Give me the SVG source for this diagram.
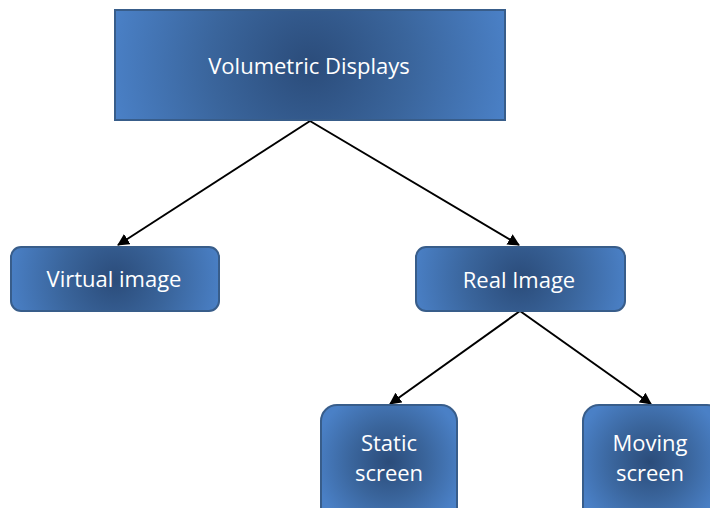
<svg xmlns="http://www.w3.org/2000/svg" width="710" height="508" viewBox="0 0 710 508">
  <defs>
    <!-- shared colour ramp: dark centre fading to lighter blue edges -->
    <radialGradient id="ramp">
      <stop offset="0" stop-color="#2b4c7a"/>
      <stop offset="0.5" stop-color="#3a659c"/>
      <stop offset="1" stop-color="#4a80c6"/>
    </radialGradient>
    <radialGradient id="fillTop" href="#ramp" gradientUnits="userSpaceOnUse" cx="310" cy="65" r="200"/>
    <radialGradient id="fillVirtual" href="#ramp" gradientUnits="userSpaceOnUse" cx="115" cy="279" r="108"/>
    <radialGradient id="fillReal" href="#ramp" gradientUnits="userSpaceOnUse" cx="520" cy="279" r="108"/>
    <radialGradient id="fillStatic" href="#ramp" gradientUnits="userSpaceOnUse" cx="389" cy="462" r="75"/>
    <radialGradient id="fillMoving" href="#ramp" gradientUnits="userSpaceOnUse" cx="650" cy="462" r="75"/>
    <marker id="arrow" viewBox="0 0 12 12" refX="11" refY="6" markerWidth="12" markerHeight="12" markerUnits="userSpaceOnUse" orient="auto">
      <path d="M0,0 L12,6 L0,12 z" fill="#000"/>
    </marker>
  </defs>
  <style>
    .box { stroke: #385d8a; stroke-width: 2; }
    .label { font-family: "Open Sans", "Liberation Sans", sans-serif; font-size: 22px; fill: #ffffff; text-anchor: middle; }
    .edge { stroke: #000; stroke-width: 2; fill: none; marker-end: url(#arrow); }
  </style>
  <rect width="710" height="508" fill="#ffffff"/>

  <g id="connectors">
    <line class="edge" x1="310" y1="121" x2="118" y2="245"/>
    <line class="edge" x1="310" y1="121" x2="519" y2="245"/>
    <line class="edge" x1="520" y1="311" x2="390" y2="404"/>
    <line class="edge" x1="520" y1="311" x2="651" y2="404"/>
  </g>

  <g id="volumetric-displays">
    <rect class="box" fill="url(#fillTop)" x="115" y="10" width="390" height="110"/>
    <text class="label" x="309" y="74">Volumetric Displays</text>
  </g>

  <g id="virtual-image">
    <rect class="box" fill="url(#fillVirtual)" x="11" y="247" width="208" height="64" rx="10"/>
    <text class="label" x="114" y="287">Virtual image</text>
  </g>

  <g id="real-image">
    <rect class="box" fill="url(#fillReal)" x="416" y="247" width="209" height="64" rx="10"/>
    <text class="label" x="519" y="288">Real Image</text>
  </g>

  <g id="static-screen">
    <rect class="box" fill="url(#fillStatic)" x="321" y="405" width="136" height="120" rx="16"/>
    <text class="label" x="389" y="451">Static</text>
    <text class="label" x="389" y="481">screen</text>
  </g>

  <g id="moving-screen">
    <rect class="box" fill="url(#fillMoving)" x="583" y="405" width="140" height="120" rx="16"/>
    <text class="label" x="650" y="451">Moving</text>
    <text class="label" x="650" y="481">screen</text>
  </g>
</svg>
